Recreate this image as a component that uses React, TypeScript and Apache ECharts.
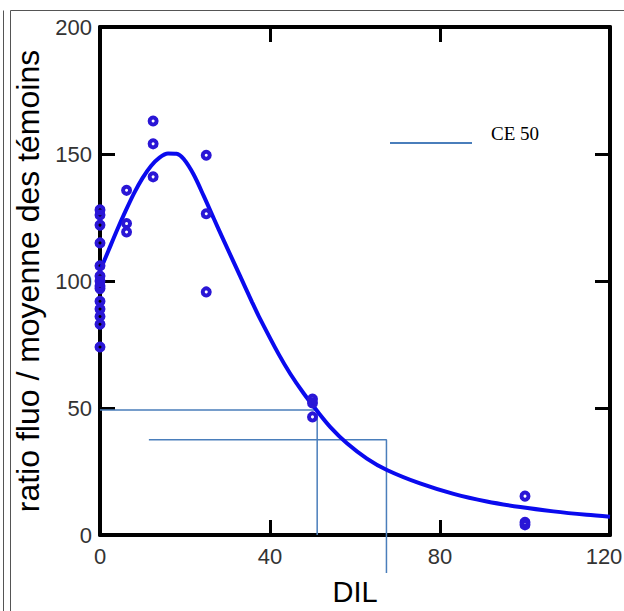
import React, { useEffect, useRef } from "react";
import * as echarts from "echarts";

// Fitted curve (DIL, ratio)
const curveX = [0, 2, 4, 6, 8, 10, 12, 14, 16, 18, 19.7, 22, 24.4, 26.8, 29.1, 33, 35.8, 37.4, 42.1, 44.8, 47.9, 51.1, 54.2, 58.1, 62.8, 67.5, 75.3, 83.2, 91, 98.9, 106.7, 114.5, 120];
const curveY = [104, 112, 120, 127.5, 134.5, 140.5, 145.3, 148.6, 150.2, 150.1, 148, 142, 133.5, 124.5, 116, 101.8, 91.6, 86, 71, 63.4, 55.8, 48.8, 42.5, 36.1, 30.1, 25.6, 20.3, 16.2, 13.2, 11, 9.3, 7.95, 7.2];

// Measured points
const pointX = [0, 0, 0, 0, 0, 0, 0, 0, 0, 0, 0, 0, 0, 0, 6.25, 6.25, 6.25, 12.5, 12.5, 12.5, 25, 25, 25, 50, 50, 50, 100, 100, 100];
const pointY = [128, 126, 122, 115, 106, 102, 100, 98, 97, 92, 89, 86, 83, 74, 135.7, 122.6, 119.3, 163, 154, 141, 149.5, 126.5, 95.7, 53.5, 52, 46.5, 15.3, 5, 4];

// CE 50 construction lines
const ce1X = [0, 51.1, 51.1];
const ce1Y = [49.2, 49.2, 0];
const ce2X = [11.5, 67.4, 67.4];
const ce2Y = [37.5, 37.5, -15];

const xTicks = { min: 0, max: 120, interval: 40 };
const yTicks = { min: 0, max: 200, interval: 50 };

const legendLabel = "CE 50";
const xTitle = "DIL";
const yTitle = "ratio fluo / moyenne des témoins";

const zip = (a: number[], b: number[]) => a.map((v, i) => [v, b[i]]);

export default function App() {
  const ref = useRef<HTMLDivElement>(null);
  useEffect(() => {
    document.body.style.margin = "0";
    if (!ref.current) return;
    const chart = echarts.init(ref.current, null, { renderer: "svg" });
    const axisLine = { show: true, onZero: false, lineStyle: { color: "#000", width: 4 } };
    const axisTick = { show: true, inside: true, length: 15, lineStyle: { color: "#000", width: 3 } };
    const label = { fontSize: 22, color: "#333", fontFamily: "Liberation Sans" };
    const ceColor = "#4a7ebb";
    chart.setOption({
      animation: false,
      backgroundColor: "#fff",
      grid: { left: 100, top: 27, width: 510, height: 508, outerBoundsMode: "none", containLabel: false },
      xAxis: [
        {
          type: "value", position: "bottom", ...xTicks,
          axisLine, axisTick, splitLine: { show: false },
          axisLabel: {
            ...label, margin: 10,
            formatter: (v: number) => (v === xTicks.max ? `{r|${v}}` : `${v}`),
            rich: { r: { ...label, padding: [0, 12, 0, 0] } },
          },
          name: xTitle, nameLocation: "middle", nameGap: 42,
          nameTextStyle: { fontSize: 29, color: "#000", fontFamily: "Liberation Sans" },
        },
        {
          type: "value", position: "top", ...xTicks,
          axisLine, axisTick, splitLine: { show: false }, axisLabel: { show: false },
        },
      ],
      yAxis: [
        {
          type: "value", position: "left", ...yTicks,
          axisLine, axisTick, splitLine: { show: false },
          axisLabel: { ...label, margin: 8 },
          name: yTitle, nameLocation: "middle", nameGap: 56,
          nameTextStyle: { fontSize: 32, color: "#000", fontFamily: "Liberation Sans" },
        },
        {
          type: "value", position: "right", ...yTicks,
          axisLine, axisTick, splitLine: { show: false }, axisLabel: { show: false },
        },
      ],
      series: [
        {
          type: "line", data: zip(ce1X, ce1Y), symbol: "none", clip: false,
          lineStyle: { color: ceColor, width: 1.5 }, z: 1,
        },
        {
          type: "line", name: legendLabel, data: zip(ce2X, ce2Y), symbol: "none", clip: false,
          lineStyle: { color: ceColor, width: 1.5 }, z: 1,
        },
        {
          type: "line", data: zip(curveX, curveY), symbol: "none", smooth: 0.3,
          lineStyle: { color: "#0a0aee", width: 4 }, z: 2,
        },
        {
          type: "scatter", data: zip(pointX, pointY), symbol: "circle", symbolSize: 7,
          itemStyle: { color: "rgba(0,0,0,0)", borderColor: "#2a16d6", borderWidth: 4, opacity: 1 }, z: 3,
        },
      ],
      graphic: [
        { type: "line", shape: { x1: 3.5, y1: 10.5, x2: 3.5, y2: 611 }, style: { stroke: "#555", lineWidth: 1 } },
        { type: "line", shape: { x1: 10.5, y1: 10.5, x2: 10.5, y2: 611 }, style: { stroke: "#555", lineWidth: 1 } },
        { type: "line", shape: { x1: 10.5, y1: 10.5, x2: 624, y2: 10.5 }, style: { stroke: "#555", lineWidth: 1 } },
        { type: "line", shape: { x1: 390, y1: 143, x2: 472, y2: 143 }, style: { stroke: ceColor, lineWidth: 2 } },
        {
          type: "text", x: 491, y: 143,
          style: { text: legendLabel, fontSize: 19, fontFamily: "Liberation Serif", fill: "#000", verticalAlign: "bottom" },
        },
      ],
    });
    return () => chart.dispose();
  }, []);
  return <div ref={ref} style={{ width: 624, height: 611 }} />;
}
